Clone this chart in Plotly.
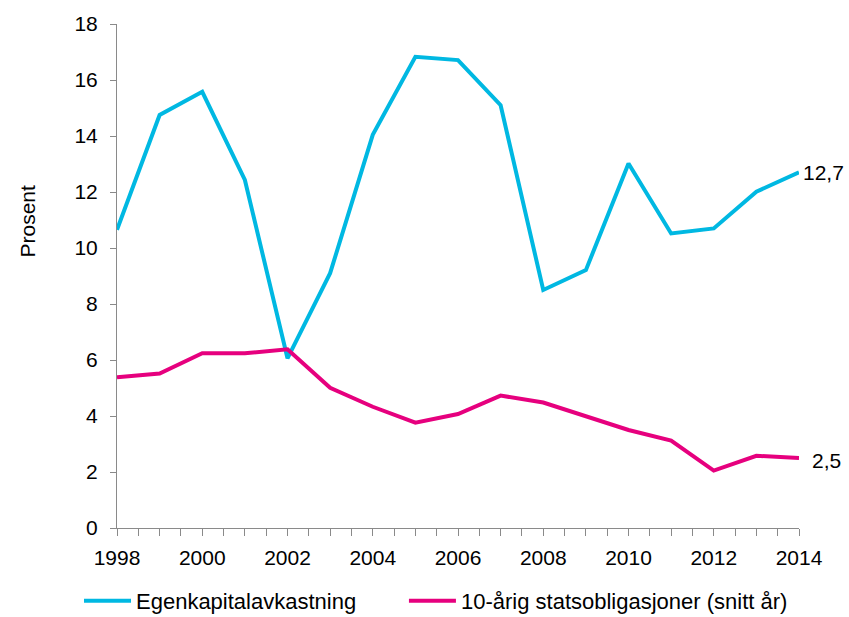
import plotly.graph_objects as go

years = list(range(1998, 2015))
egenkapital = [10.65, 14.75, 15.58, 12.43, 6.06, 9.1, 14.04, 16.83, 16.71, 15.1, 8.5, 9.21, 13.02, 10.52, 10.7, 12.01, 12.7]
stats10 = [5.38, 5.52, 6.24, 6.24, 6.38, 5.01, 4.33, 3.76, 4.07, 4.73, 4.48, 3.98, 3.5, 3.12, 2.05, 2.58, 2.5]
names = ["Egenkapitalavkastning" + "\u00a0" * 7, "10-årig statsobligasjoner (snitt år)"]
end_labels = ["12,7", "2,5"]
y_title = "Prosent"

blue = "#00B8E2"
pink = "#E6007E"
axis_grey = "#8a8a8a"
font = "Liberation Sans, Arial, sans-serif"

fig = go.Figure()
fig.add_trace(go.Scatter(x=years, y=egenkapital, mode="lines", name=names[0],
                         line=dict(color=blue, width=4)))
fig.add_trace(go.Scatter(x=years, y=stats10, mode="lines", name=names[1],
                         line=dict(color=pink, width=4)))

fig.add_annotation(x=years[-1], y=egenkapital[-1], text=end_labels[0], showarrow=False,
                   xanchor="left", xshift=2, font=dict(size=21, color="black", family=font))
fig.add_annotation(x=years[-1], y=stats10[-1], text=end_labels[1], showarrow=False,
                   xanchor="left", xshift=11, yshift=-2, font=dict(size=21, color="black", family=font))

# y-axis title (placed above the plot's vertical middle, as in the reference)
fig.add_annotation(xref="paper", yref="paper", x=(27 - 117) / 682, y=(528 - 221.5) / 504,
                   text=y_title, textangle=-90, showarrow=False,
                   xanchor="center", yanchor="middle",
                   font=dict(size=21, color="black", family=font))

fig.update_layout(
    width=849, height=617,
    margin=dict(l=117, r=50, t=24, b=89, autoexpand=False),
    plot_bgcolor="white", paper_bgcolor="white",
    font=dict(family=font, size=21, color="black"),
    showlegend=True,
    legend=dict(orientation="h", x=(79 - 117) / 682, y=(528 - 601) / 504,
                xanchor="left", yanchor="middle",
                font=dict(size=22, family=font), itemwidth=47, tracegroupgap=0,
                bgcolor="rgba(0,0,0,0)"),
    xaxis=dict(range=[1998, 2014], dtick=2, tick0=1998, showgrid=False, zeroline=False,
               showline=True, linecolor=axis_grey, linewidth=1, automargin=False,
               ticks="outside", ticklen=7, tickcolor=axis_grey, ticklabelstandoff=4,
               minor=dict(dtick=0.5, ticks="outside", ticklen=7, tickcolor=axis_grey, showgrid=False),
               tickfont=dict(size=21, family=font)),
    yaxis=dict(range=[0, 18], dtick=2, showgrid=False, zeroline=False,
               showline=True, linecolor=axis_grey, linewidth=1, automargin=False,
               ticks="outside", ticklen=6, tickcolor=axis_grey, ticklabelstandoff=8,
               tickfont=dict(size=21, family=font)),
)

fig.write_html(
    "out.html",
    config={"displayModeBar": False},
    post_script="document.body.style.margin='0';document.body.style.overflow='hidden';"
                "document.documentElement.style.overflow='hidden';",
)
